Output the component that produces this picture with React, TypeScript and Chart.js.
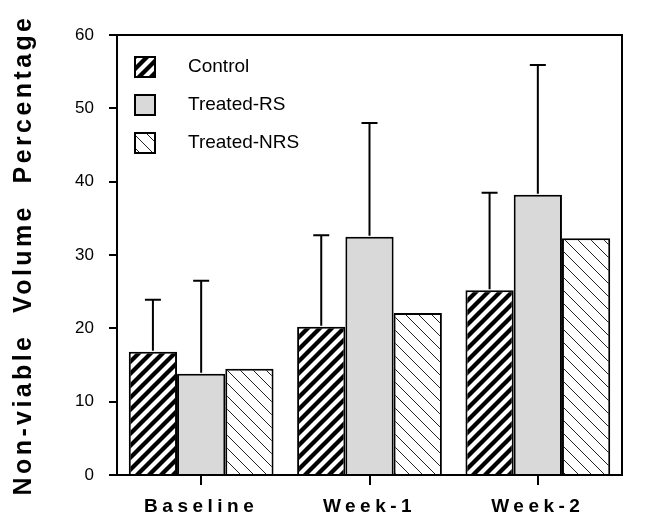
import React, { useEffect, useRef } from 'react';
import { Chart, registerables } from 'chart.js';

Chart.register(...registerables);

// ---- data ----
const categories = ['Baseline', 'Week-1', 'Week-2'];
const seriesNames = ['Control', 'Treated-RS', 'Treated-NRS'];
const controlMeans = [16.8, 20.2, 25.2];
const treatedRSMeans = [13.8, 32.5, 38.2];
const treatedNRSMeans = [14.5, 22.1, 32.3];
const controlSD = [7.1, 12.5, 13.3];
const treatedRSSD = [12.7, 15.5, 17.7];
const yMin = 0;
const yMax = 60;
const yStep = 10;
const yTitle = 'Non-viable  Volume  Percentage';

const FONT = "'Liberation Sans', Arial, Helvetica, sans-serif";

function makePattern(ctx: CanvasRenderingContext2D, kind: 'bold' | 'thin'): CanvasPattern | string {
  const size = kind === 'bold' ? 12 : 13;
  const c = document.createElement('canvas');
  c.width = size;
  c.height = size;
  const g = c.getContext('2d');
  if (!g) return '#fff';
  g.fillStyle = '#ffffff';
  g.fillRect(0, 0, size, size);
  g.strokeStyle = '#000000';
  g.lineCap = 'square';
  if (kind === 'bold') {
    g.lineWidth = 4.3;
    for (const x0 of [-size, 0, size]) {
      g.beginPath();
      g.moveTo(x0, size);
      g.lineTo(x0 + size, 0);
      g.stroke();
    }
  } else {
    g.lineWidth = 1;
    g.strokeStyle = '#222';
    for (const x0 of [-size, 0, size]) {
      g.beginPath();
      g.moveTo(x0, 0);
      g.lineTo(x0 + size, size);
      g.stroke();
    }
  }
  return ctx.createPattern(c, 'repeat') || '#fff';
}

const errorBarPlugin = {
  id: 'errorBars',
  afterDatasetsDraw(chart: any) {
    const { ctx } = chart;
    const yScale = chart.scales.y;
    chart.data.datasets.forEach((ds: any, i: number) => {
      if (!ds.errors) return;
      const meta = chart.getDatasetMeta(i);
      meta.data.forEach((bar: any, j: number) => {
        const err = ds.errors[j];
        if (err == null) return;
        const top = yScale.getPixelForValue(ds.data[j] + err);
        ctx.save();
        ctx.strokeStyle = '#000';
        ctx.lineWidth = 2;
        ctx.beginPath();
        ctx.moveTo(bar.x, bar.y - 1);
        ctx.lineTo(bar.x, top);
        ctx.moveTo(bar.x - 8, top);
        ctx.lineTo(bar.x + 8, top);
        ctx.stroke();
        ctx.restore();
      });
    });
  },
};

const framePlugin = {
  id: 'frame',
  afterDraw(chart: any) {
    const { ctx, chartArea } = chart;
    ctx.save();
    ctx.strokeStyle = '#000';
    ctx.lineWidth = 2;
    ctx.beginPath();
    ctx.moveTo(chartArea.left - 1, chartArea.top);
    ctx.lineTo(chartArea.right, chartArea.top);
    ctx.lineTo(chartArea.right, chartArea.bottom + 1);
    ctx.stroke();
    ctx.restore();
  },
};

const legendPlugin = {
  id: 'insideLegend',
  afterDraw(chart: any) {
    const { ctx, chartArea } = chart;
    const boxX = chartArea.left + 18;
    const textX = chartArea.left + 71;
    const rowH = 38;
    chart.data.datasets.forEach((ds: any, i: number) => {
      const cy = chartArea.top + 32 + i * rowH;
      ctx.save();
      ctx.fillStyle = ds.backgroundColor;
      ctx.fillRect(boxX, cy - 10, 20, 20);
      ctx.strokeStyle = '#000';
      ctx.lineWidth = 2;
      ctx.strokeRect(boxX, cy - 10, 20, 20);
      ctx.fillStyle = '#000';
      ctx.font = `19px ${FONT}`;
      ctx.textAlign = 'left';
      ctx.textBaseline = 'middle';
      ctx.fillText(ds.label, textX, cy);
      ctx.restore();
    });
  },
};

function withSpacing(scale: any, method: string, spacing: string) {
  const orig = scale[method];
  scale[method] = function (...args: any[]) {
    const c = this.ctx;
    const prev = c.letterSpacing;
    c.letterSpacing = spacing;
    try {
      return orig.apply(this, args);
    } finally {
      c.letterSpacing = prev;
    }
  };
}

export default function App() {
  const canvasRef = useRef<HTMLCanvasElement | null>(null);

  useEffect(() => {
    const canvas = canvasRef.current;
    if (!canvas) return;
    const ctx = canvas.getContext('2d');
    if (!ctx) return;

    const boldPattern = makePattern(ctx, 'bold');
    const thinPattern = makePattern(ctx, 'thin');

    const common = {
      borderColor: '#000',
      borderWidth: 2,
      borderSkipped: 'bottom',
      categoryPercentage: 0.86,
      barPercentage: 1.0,
    };

    const chart = new Chart(ctx, {
      type: 'bar',
      data: {
        labels: categories,
        datasets: [
          { ...common, label: seriesNames[0], data: controlMeans, errors: controlSD, backgroundColor: boldPattern },
          { ...common, label: seriesNames[1], data: treatedRSMeans, errors: treatedRSSD, backgroundColor: '#d9d9d9' },
          { ...common, label: seriesNames[2], data: treatedNRSMeans, backgroundColor: thinPattern },
        ] as any,
      },
      options: {
        responsive: false,
        animation: false,
        layout: { padding: { left: 0, top: 35, right: 30, bottom: 0 } },
        plugins: {
          legend: { display: false },
          tooltip: { enabled: false },
        },
        scales: {
          x: {
            grid: {
              offset: false,
              drawOnChartArea: false,
              drawTicks: true,
              tickLength: 10,
              color: '#000',
              lineWidth: 2,
            },
            border: { display: true, color: '#000', width: 2 },
            ticks: {
              color: '#000',
              font: { family: FONT, size: 19, weight: 'bold' },
              padding: 10,
              maxRotation: 0,
              autoSkip: false,
            },
            afterFit: (scale: any) => {
              scale.height = 43;
            },
          },
          y: {
            min: yMin,
            max: yMax,
            grid: {
              drawOnChartArea: false,
              drawTicks: true,
              tickLength: 8,
              color: '#000',
              lineWidth: 2,
            },
            border: { display: true, color: '#000', width: 2 },
            ticks: {
              stepSize: yStep,
              color: '#000',
              font: { family: FONT, size: 17 },
              padding: 15,
            },
            title: {
              display: true,
              text: yTitle,
              color: '#000',
              font: { family: FONT, size: 25, weight: 'bold' },
              padding: { top: 9, bottom: 0 },
            },
            afterFit: (scale: any) => {
              scale.width = 117;
            },
          },
        },
      } as any,
      plugins: [errorBarPlugin, framePlugin, legendPlugin],
    });

    withSpacing(chart.scales.x, 'drawLabels', '4.5px');
    withSpacing(chart.scales.y, 'drawTitle', '3.4px');
    chart.draw();

    return () => {
      chart.destroy();
    };
  }, []);

  return (
    <div style={{ position: 'absolute', left: 0, top: 0, width: 652, height: 518, background: '#fff' }}>
      <canvas ref={canvasRef} width={652} height={518} style={{ width: 652, height: 518, display: 'block' }} />
    </div>
  );
}
